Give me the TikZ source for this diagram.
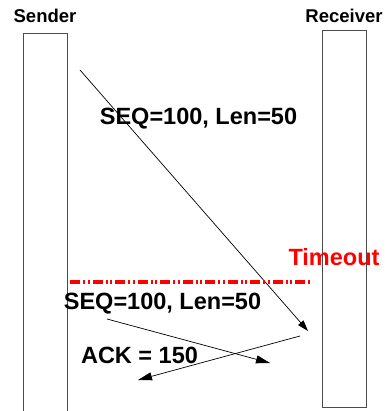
\documentclass[tikz,border=0pt]{standalone}
\usepackage{fontspec}
\setmainfont{Liberation Sans}
\usetikzlibrary{arrows.meta}

\begin{document}
\begin{tikzpicture}[
    x=1pt, y=-1pt,
    font=\bfseries,
    lane/.style={draw=black!70, line width=0.9pt},
    head/.style={font=\bfseries\fontsize{18.5}{22}\selectfont, anchor=base, inner sep=0pt},
    lbl/.style={font=\bfseries\fontsize{23.5}{28}\selectfont, anchor=base, inner sep=0pt},
    msg/.style={line width=0.7pt, -{Triangle[length=14pt, width=8pt]}}
]
\useasboundingbox (0,0) rectangle (384,411);

% Top: the two parties
\node (sender) [head] at (45,23) {Sender};
\node (receiver) [head] at (344,23) {Receiver};

% Time lines (sender one runs off the page)
\draw[lane] (23,415) |- (67,33) -- (67,415);
\draw[lane] (322,30) rectangle (366,407);

% First segment, lost on the way
\coordinate (s1) at (80,70);
\coordinate (r1) at (308,331);
\draw[line width=0.7pt, -{Triangle[length=11pt, width=7pt]}] (s1) -- (r1);
\node (seg1) [lbl] at (198.5,125) {SEQ=100, Len=50};

% Timeout
\node (timeout) [lbl, text=red] at (334,265) {Timeout};
\coordinate (t0) at (70,282);
\coordinate (t1) at (312,282);
\draw[red, line width=3.5pt, dash pattern=on 10pt off 3pt on 2pt off 2.5pt on 2pt off 3pt] (t0) -- (t1);

% Retransmission and ACK
\node (seg2) [lbl] at (162.5,309) {SEQ=100, Len=50};
\coordinate (s2) at (107,319);
\coordinate (r2) at (270,363);
\draw[msg] (s2) -- (r2);

\node (ack) [lbl] at (139.5,363) {ACK = 150};
\coordinate (r3) at (300,336);
\coordinate (s3) at (138,380);
\draw[msg] (r3) -- (s3);

\end{tikzpicture}
\end{document}
